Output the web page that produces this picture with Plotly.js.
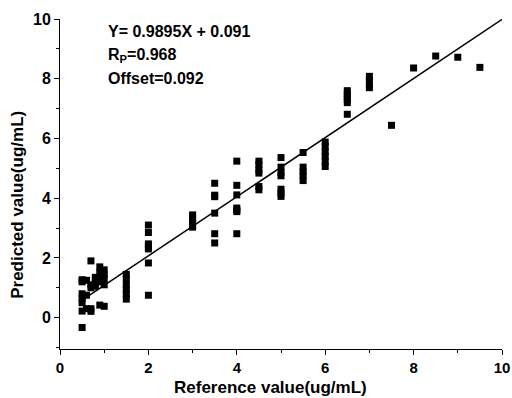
<!DOCTYPE html>
<html>
<head>
<meta charset="utf-8">
<script src="https://cdn.plot.ly/plotly-3.0.1.min.js"></script>
<style>html,body{margin:0;padding:0;background:#fff;}#chart{width:512px;height:398px;}</style>
</head>
<body>
<div id="chart"></div>
<script>
// Reference (x) and predicted (y) values
var refValues = [
  0.5, 0.5, 0.5, 0.5, 0.5, 0.5, 0.5,
  0.6, 0.6, 0.6,
  0.7, 0.7, 0.7, 0.7, 0.7,
  0.8, 0.8, 0.8, 0.8,
  0.9, 0.9, 0.9, 0.9, 0.9,
  1.0, 1.0, 1.0, 1.0, 1.0,
  1.5, 1.5, 1.5, 1.5, 1.5, 1.5,
  2, 2, 2, 2, 2, 2, 2,
  3, 3, 3, 3, 3,
  3.5, 3.5, 3.5, 3.5, 3.5, 3.5,
  4, 4, 4, 4, 4, 4, 4,
  4.5, 4.5, 4.5, 4.5, 4.5, 4.5,
  5, 5, 5, 5, 5, 5, 5,
  5.5, 5.5, 5.5, 5.5, 5.5,
  6, 6, 6, 6, 6, 6,
  6.5, 6.5, 6.5, 6.5, 6.5, 6.5,
  7, 7, 7, 7,
  7.5, 8, 8.5, 9, 9.5
];
var predValues = [
  -0.33, 0.22, 0.5, 0.65, 0.8, 1.2, 1.27,
  0.3, 0.75, 1.25,
  1.9, 1.1, 1.0, 0.21, 0.3,
  1.25, 1.15, 1.05, 1.35,
  1.7, 1.5, 1.35, 1.2, 0.42,
  1.6, 1.45, 1.3, 1.1, 0.38,
  1.45, 1.3, 1.1, 0.95, 0.8, 0.62,
  3.1, 2.85, 2.47, 2.38, 2.3, 1.83, 0.75,
  3.44, 3.33, 3.22, 3.11, 3.03,
  4.5, 4.1, 3.5, 2.81, 2.5, 4.05,
  5.24, 4.43, 4.11, 3.67, 3.55, 2.81, 3.6,
  5.24, 5.12, 4.95, 4.84, 4.39, 4.28,
  5.36, 5.04, 4.86, 4.75, 4.3, 4.17, 4.06,
  5.53, 5.04, 4.89, 4.75, 4.59,
  5.88, 5.73, 5.56, 5.4, 5.23, 5.06,
  7.6, 7.5, 7.4, 7.3, 7.2, 6.81,
  8.08, 7.95, 7.8, 7.7,
  6.44, 8.36, 8.76, 8.72, 8.38
];
// Regression line endpoints (x) and fit parameters
var fitX = [0.5, 10];
var slope = 0.9895, intercept = 0.091;
var fitY = fitX.map(function(x){ return slope * x + intercept; });
var xTicks = [0, 2, 4, 6, 8, 10];
var yTicks = [0, 2, 4, 6, 8, 10];
var statLines = ['Y= 0.9895X + 0.091', 'R<sub>P</sub>=0.968', 'Offset=0.092'];
var xTitle = 'Reference value(ug/mL)';
var yTitle = 'Predicted value(ug/mL)';

var font = 'Liberation Sans, Arial, sans-serif';
var traces = [
  {x: refValues, y: predValues, mode: 'markers', type: 'scatter',
   marker: {symbol: 'square', size: 7, color: '#000'}, hoverinfo: 'none'},
  {x: fitX, y: fitY, mode: 'lines', type: 'scatter',
   line: {color: '#000', width: 1.5}, hoverinfo: 'none'}
];
var axisCommon = {
  showgrid: false, zeroline: false, showline: true, linecolor: '#000', linewidth: 1,
  ticks: 'outside', ticklen: 5, tickwidth: 1, tickcolor: '#000',
  tickfont: {family: font, size: 16, color: '#000', weight: 'bold'},
  minor: {dtick: 1, ticks: 'outside', ticklen: 3, tickwidth: 1, tickcolor: '#000', showgrid: false}
};
var annots = statLines.map(function(t, i){
  return {text: '<b>' + t + '</b>', xref: 'paper', yref: 'paper', x: 0.105, y: 0.995 - i * 0.072,
          xanchor: 'left', yanchor: 'top', showarrow: false,
          font: {family: font, size: 16, color: '#000'}};
});
annots.push({text: '<b>' + xTitle + '</b>', xref: 'paper', yref: 'paper', x: 0.477, y: -0.118,
             xanchor: 'center', yanchor: 'middle', showarrow: false,
             font: {family: font, size: 17, color: '#000'}});
annots.push({text: '<b>' + yTitle + '</b>', xref: 'paper', yref: 'paper', x: -0.098, y: 0.436,
             xanchor: 'center', yanchor: 'middle', textangle: -90, showarrow: false,
             font: {family: font, size: 17, color: '#000'}});
var layout = {
  width: 512, height: 398,
  margin: {l: 60, r: 10, t: 19, b: 49},
  paper_bgcolor: '#fff', plot_bgcolor: '#fff',
  showlegend: false,
  xaxis: Object.assign({}, axisCommon, {
    range: [0, 10], tickvals: xTicks, ticktext: xTicks.map(String),
    tickfont: {family: font, size: 15, color: '#000', weight: 'bold'}
  }),
  yaxis: Object.assign({}, axisCommon, {
    range: [-1.05, 10], tickvals: yTicks, ticktext: yTicks.map(String)
  }),
  annotations: annots
};
Plotly.newPlot('chart', traces, layout, {staticPlot: true, displayModeBar: false});
</script>
</body>
</html>
